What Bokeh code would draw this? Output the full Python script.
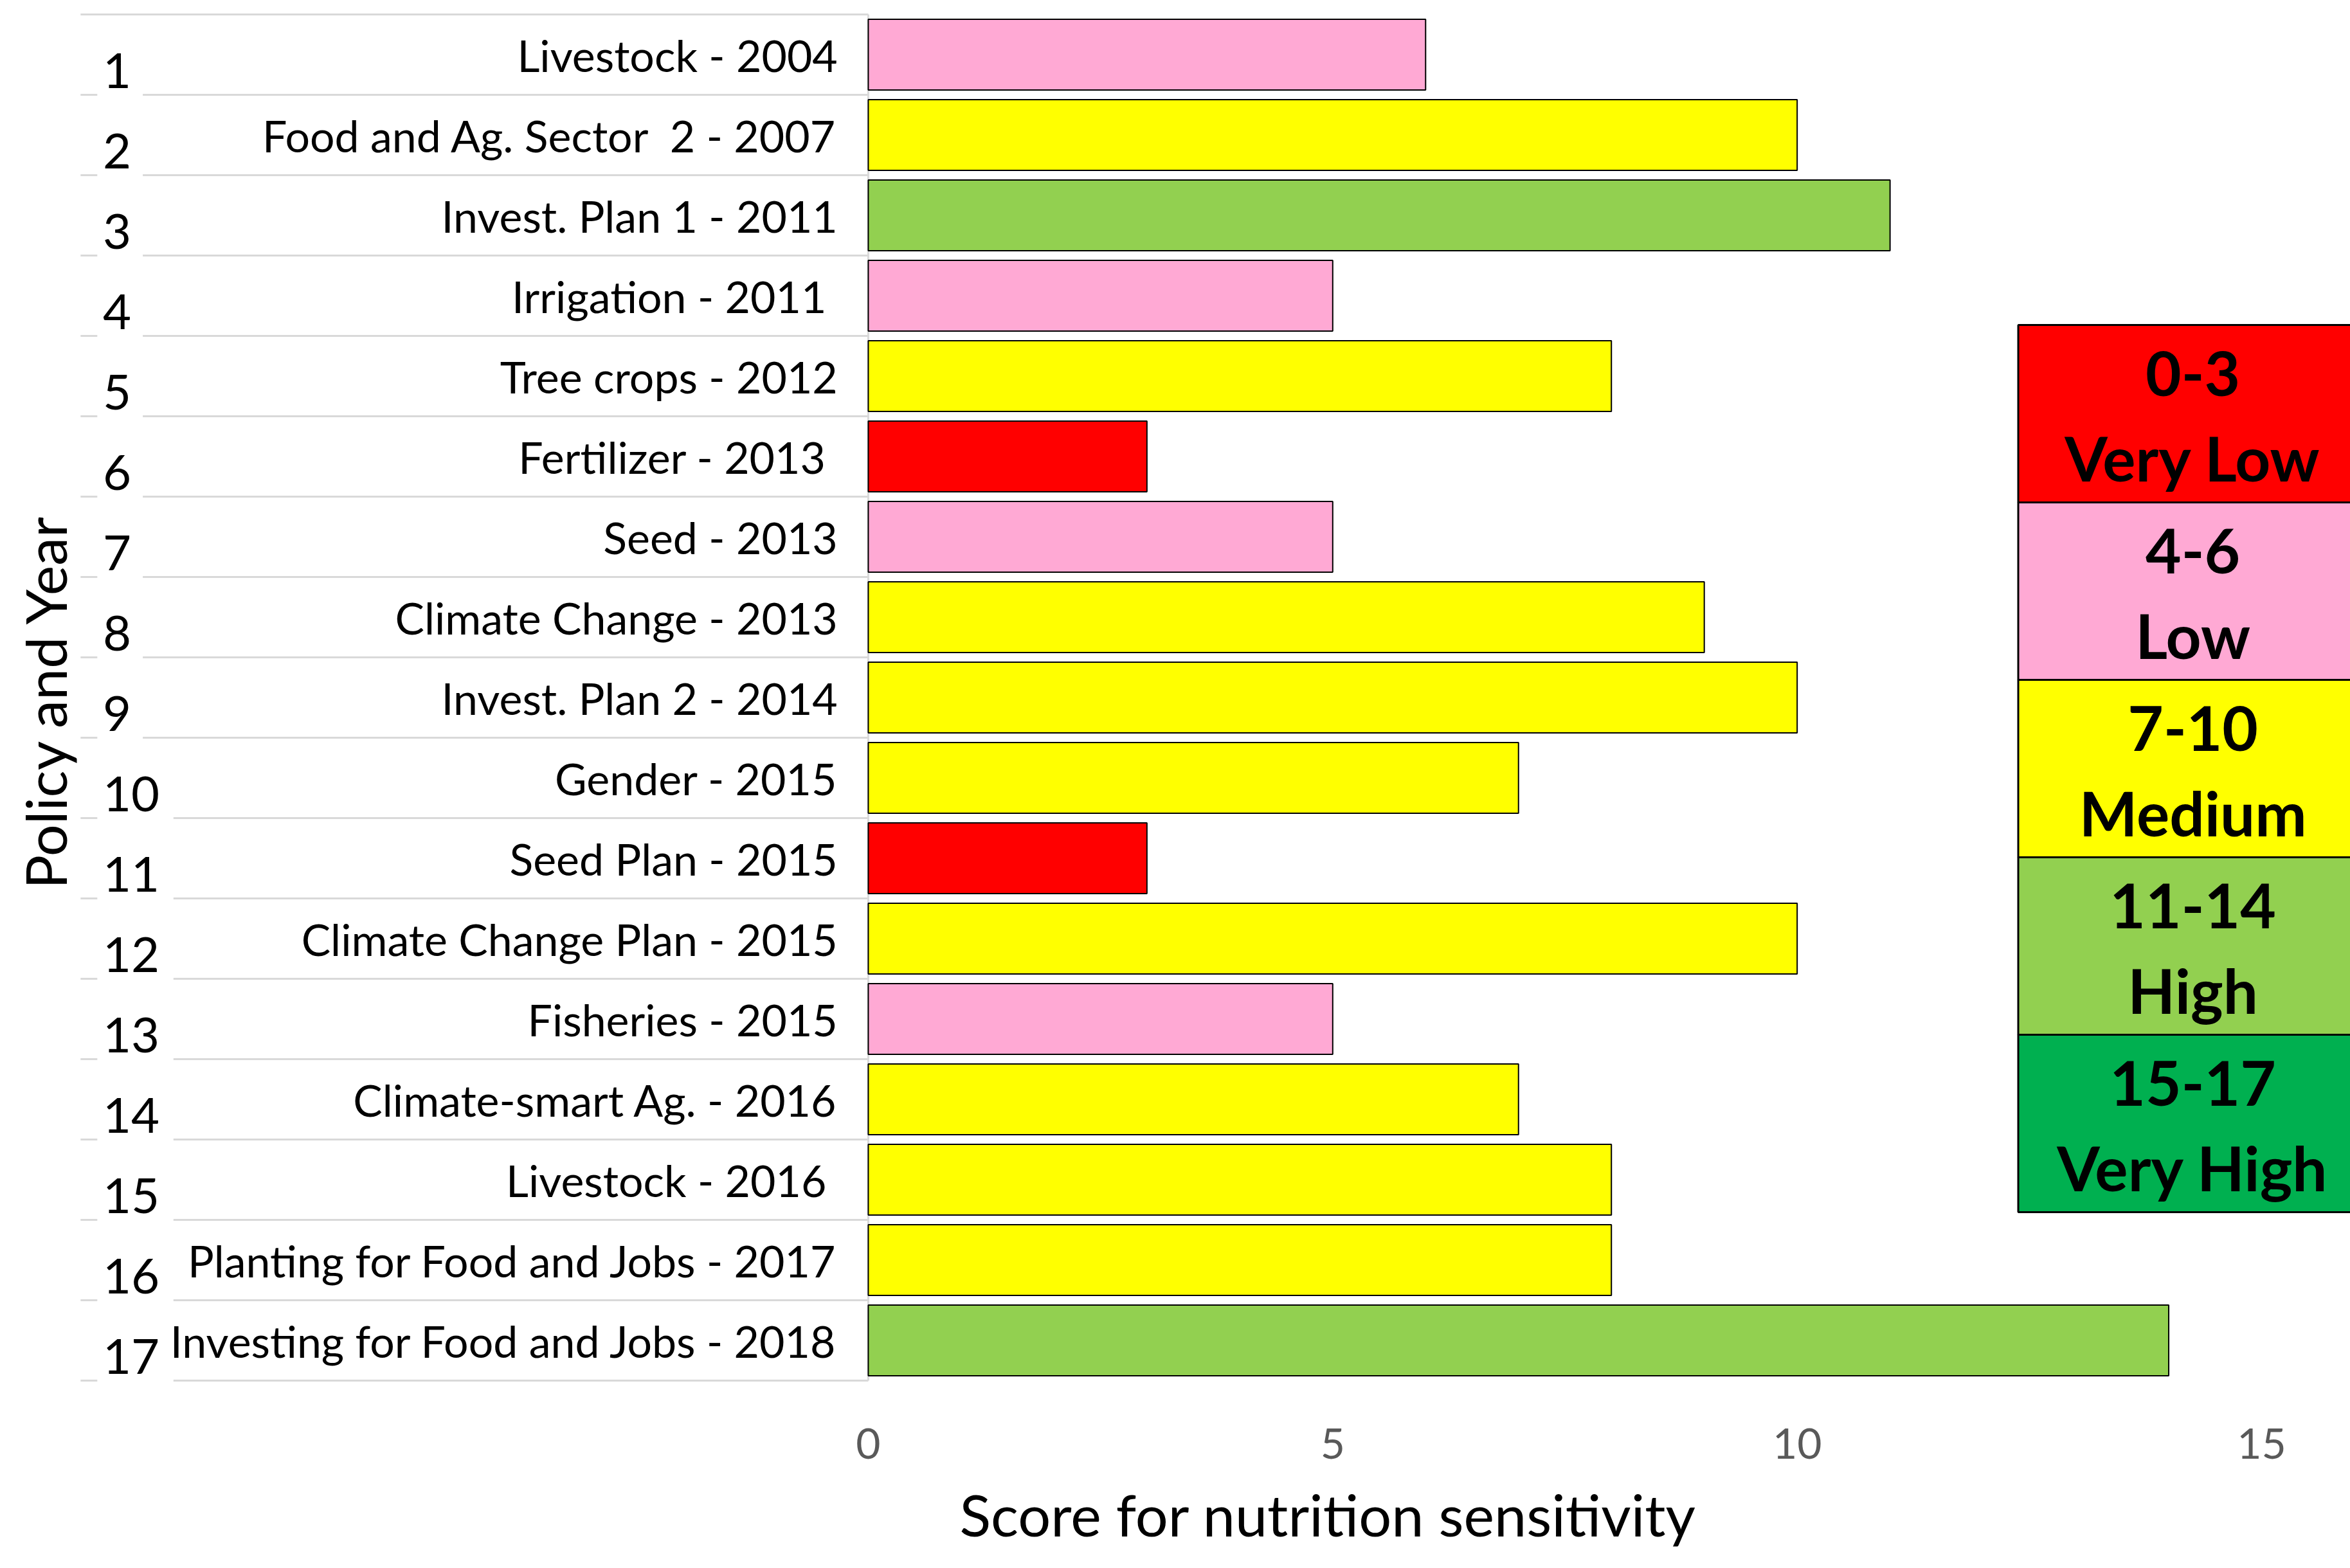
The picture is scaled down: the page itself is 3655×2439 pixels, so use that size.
import math
from bokeh.plotting import figure
from bokeh.models import Range1d, FixedTicker, Title, ColumnDataSource
from bokeh.core.properties import value
from bokeh.embed import file_html
from bokeh.resources import INLINE

# ---------------- data ----------------
policy_labels = [
    "Livestock - 2004",
    "Food and Ag. Sector \u00a02 - 2007",
    "Invest. Plan 1 - 2011",
    "Irrigation - 2011\u00a0",
    "Tree crops - 2012",
    "Fertilizer - 2013\u00a0",
    "Seed - 2013",
    "Climate Change - 2013",
    "Invest. Plan 2 - 2014",
    "Gender - 2015",
    "Seed Plan - 2015",
    "Climate Change Plan - 2015",
    "Fisheries - 2015",
    "Climate-smart Ag. - 2016",
    "Livestock - 2016\u00a0",
    "Planting for Food and Jobs - 2017",
    "Investing for Food and Jobs - 2018",
]
policy_numbers = list(range(1, 18))
scores = [6, 10, 11, 5, 8, 3, 5, 9, 10, 7, 3, 10, 5, 7, 8, 8, 14]

band_ranges = ["0-3", "4-6", "7-10", "11-14", "15-17"]
band_names = ["Very Low", "Low", "Medium", "High", "Very High"]
band_low = [0, 4, 7, 11, 15]
band_high = [3, 6, 10, 14, 17]
band_colors = ["#FF0000", "#FFA9D4", "#FFFF00", "#92D050", "#00B050"]

x_ticks = [0, 5, 10, 15]
x_title = "Score for nutrition sensitivity"
y_title = "Policy and Year"

# ---------------- figure ----------------
W, H = 3655, 2439
p = figure(width=W, height=H, output_backend="svg", toolbar_location=None,
           x_range=Range1d(-9.344, 15.955), y_range=Range1d(17.964, 0.324),
           y_axis_location=None, min_border_left=0, min_border_right=0,
           min_border_top=0, min_border_bottom=234)
p.outline_line_color = None
p.grid.visible = False
p.background_fill_color = "white"
p.border_fill_color = "white"

FONT = value("Lato")

# table lines in label area
n = len(scores)
bounds = [i + 0.5 for i in range(n + 1)]
p.segment(x0=[-8.48] * len(bounds), x1=[0] * len(bounds), y0=bounds, y1=bounds,
          line_color="#D9D9D9", line_width=3)
p.segment(x0=[0], x1=[0], y0=[0.5], y1=[n + 0.5], line_color="#D9D9D9", line_width=3)

# number boxes (white) and numbers
nb_left = [-8.30] * n
nb_right = [-8.30 + 0.33 * len(str(k)) + 0.16 for k in policy_numbers]
nb_top = [k - 0.15 for k in policy_numbers]
nb_bottom = [k + 0.62 for k in policy_numbers]
p.quad(left=nb_left, right=nb_right, top=nb_top, bottom=nb_bottom,
       fill_color="white", line_color=None)
p.text(x=[-8.24] * n, y=[k + 0.2 for k in policy_numbers], text=[str(k) for k in policy_numbers],
       text_font=FONT, text_font_size="76px", text_align="left", text_baseline="middle",
       text_color="black")

# policy labels
p.text(x=[-0.33] * n, y=policy_numbers, text=policy_labels, text_font=FONT,
       text_font_size="68px", text_align="right", text_baseline="middle", text_color="black")

# bars
def band_color(s):
    for lo, hi, c in zip(band_low, band_high, band_colors):
        if lo <= s <= hi:
            return c
    return band_colors[-1]

src = ColumnDataSource(dict(y=policy_numbers, right=scores,
                            color=[band_color(s) for s in scores]))
p.hbar(y="y", left=0, right="right", height=0.88, source=src, fill_color="color",
       line_color="black", line_width=2)

# legend table
cell_h = 2.208
leg_top0 = 4.364
leg_tops = [leg_top0 + i * cell_h for i in range(len(band_names))]
leg_bottoms = [t + cell_h for t in leg_tops]
p.quad(left=[12.38] * len(band_names), right=[16.8] * len(band_names), top=leg_tops,
       bottom=leg_bottoms, fill_color=band_colors, line_color="black", line_width=3)
p.text(x=[14.26] * len(band_names), y=[t + 0.60 for t in leg_tops], text=band_ranges,
       text_font=FONT, text_font_style="bold", text_font_size="96px",
       text_align="center", text_baseline="middle", text_color="black")
p.text(x=[14.26] * len(band_names), y=[t + 1.648 for t in leg_tops], text=band_names,
       text_font=FONT, text_font_style="bold", text_font_size="96px",
       text_align="center", text_baseline="middle", text_color="black")

# y title
p.text(x=[-8.86], y=[9.044], text=[y_title], angle=math.pi / 2, text_font=FONT,
       text_font_size="88px", text_align="center", text_baseline="middle", text_color="black")

# x axis
ax = p.xaxis[0]
ax.ticker = FixedTicker(ticks=x_ticks)
ax.axis_line_color = None
ax.major_tick_line_color = None
ax.minor_tick_line_color = None
ax.major_label_standoff = 10
ax.major_label_text_font = "Lato"
ax.major_label_text_font_size = "66px"
ax.major_label_text_color = "#595959"

p.add_layout(Title(text=x_title, align="left", offset=1492, text_font="Lato",
                   text_font_size="90px", text_font_style="normal", text_color="black",
                   standoff=54), "below")

open("out.html", "w").write(file_html(p, INLINE))
